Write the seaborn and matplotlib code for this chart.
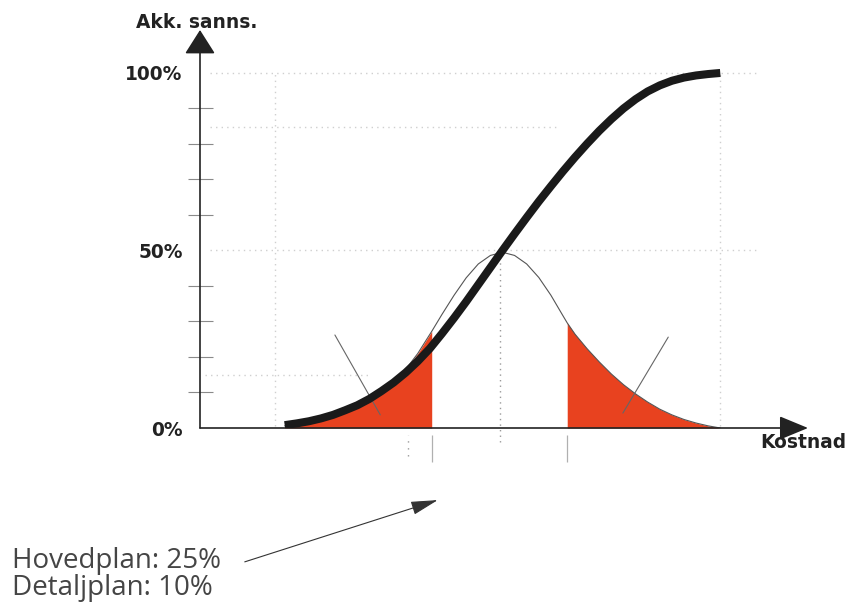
import numpy as np
import matplotlib
matplotlib.use("Agg")
import matplotlib.pyplot as plt
import seaborn as sns

# ==========================================================
# DATA (cost in arbitrary units, probability in %)
# ==========================================================

cost = [14, 16, 18, 20, 22, 24, 26, 28, 30, 32, 34, 36, 38, 40, 42, 44, 46, 48, 50,
        52, 54, 56, 58, 60, 62, 64, 66, 68, 70, 72, 74, 76, 78, 80, 82, 84, 86]
cum_prob = [0.8, 1.3, 1.9, 2.7, 3.7, 5.0, 6.4, 8.2, 10.4, 12.8, 15.6, 18.8, 22.4,
            26.6, 31.0, 35.6, 40.4, 45.2, 50.0, 54.7, 59.3, 63.8, 68.1, 72.3, 76.3,
            80.1, 83.7, 87.0, 90.0, 92.6, 94.8, 96.5, 97.8, 98.7, 99.3, 99.7, 100.0]

bell_cost = [14, 16, 18, 20, 22, 24, 26, 28, 30, 32, 34, 36, 38, 38.3, 40, 42, 44, 46,
             48, 50, 52, 54, 56, 58, 60, 60.7, 62, 64, 66, 68, 70, 72, 74, 76, 78, 80,
             82, 84, 86]
bell_height = [0.6, 1.1, 1.7, 2.4, 3.3, 4.5, 5.9, 7.7, 9.9, 12.8, 16.5, 21.0, 26.4,
               27.2, 32.0, 37.4, 42.3, 46.2, 48.6, 49.5, 48.6, 46.2, 42.4, 37.4, 31.6,
               29.6, 26.4, 22.3, 18.6, 15.2, 12.2, 9.6, 7.3, 5.3, 3.7, 2.4, 1.4, 0.6, 0.0]

low_cut = 38.3
high_cut = 60.7

y_ticks = [0, 50, 100]
y_tick_labels = ["0%", "50%", "100%"]
minor_ticks = [10, 20, 30, 40, 60, 70, 80, 90]

y_title = "Akk. sanns."
x_title = "Kostnad"
note_lines = ["Hovedplan: 25%", "Detaljplan: 10%"]

# ==========================================================
# STYLE
# ==========================================================

sns.set_theme(style="white")
plt.rcParams["font.family"] = ["DejaVu Sans"]

red = "#e8421f"
ink = "#222222"
dotted = dict(color="#cfcfcf", lw=1.0, ls=(0, (1, 3)), zorder=1)

fig = plt.figure(figsize=(8.53, 6.05), dpi=100)
ax = fig.add_axes([200 / 853, 177 / 605, 608 / 853, 398 / 605])
ax.set_xlim(0, 100.5)
ax.set_ylim(0, 112.1)

for side in ax.spines.values():
    side.set_visible(False)

# faint dotted helper grid
ax.hlines(100, 1.7, 92.6, **dotted)
ax.hlines(84.8, 1.7, 59.5, **dotted)
ax.hlines(50, 1.7, 92.6, **dotted)
ax.hlines(14.9, 0.8, 28.0, **dotted)
ax.vlines(12.4, 0.5, 100, **dotted)
ax.vlines(86.0, 0.5, 100, **dotted)
ax.vlines(49.6, -4, 49, color="#9a9a9a", lw=1.0, ls=(0, (1, 3)), zorder=1, clip_on=False)
ax.vlines(34.4, -8, -2, color="#9a9a9a", lw=1.0, ls=(0, (1, 4)), zorder=1, clip_on=False)

# ==========================================================
# RED TAILS + BELL
# ==========================================================

bx = np.array(bell_cost)
by = np.array(bell_height)
left = bx <= low_cut
right = bx >= high_cut

ax.fill_between(bx[left], 0, by[left], color=red, lw=0, zorder=2)
ax.fill_between(bx[right], 0, by[right], color=red, lw=0, zorder=2)

sns.lineplot(x=bell_cost, y=bell_height, color="#555555", lw=0.8,
             ax=ax, sort=False, zorder=3)

# leader lines into the tails
ax.plot([22.3, 29.8], [26.2, 3.7], color="#666666", lw=0.8, zorder=3)
ax.plot([77.4, 69.9], [25.6, 4.2], color="#666666", lw=0.8, zorder=3)

# cut markers under the axis
ax.vlines([low_cut, high_cut], -9.6, -2.0, color="#b0b0b0", lw=0.9, clip_on=False)

# ==========================================================
# CUMULATIVE CURVE
# ==========================================================

sns.lineplot(x=cost, y=cum_prob, color="#1a1a1a", lw=5.8, ax=ax, sort=False,
             zorder=5, solid_capstyle="butt", solid_joinstyle="round")

# ==========================================================
# AXES WITH ARROWS
# ==========================================================

ax.annotate("", xy=(100.5, 0), xytext=(0, 0), annotation_clip=False,
            arrowprops=dict(arrowstyle="-|>,head_length=1.5,head_width=0.62",
                            color=ink, lw=1.2, shrinkA=0, shrinkB=0))
ax.annotate("", xy=(0, 112.1), xytext=(0, 0), annotation_clip=False,
            arrowprops=dict(arrowstyle="-|>,head_length=1.26,head_width=0.8",
                            color=ink, lw=1.2, shrinkA=0, shrinkB=0))

ax.set_xticks([])
ax.set_yticks(y_ticks, y_tick_labels, fontsize=13.4, fontweight="bold", color=ink)
ax.tick_params(axis="y", which="major", length=0, pad=12.5)
ax.set_yticks(minor_ticks, minor=True)
ax.tick_params(axis="y", which="minor", left=True, direction="inout",
               length=18, width=0.8, color="#8a8a8a")
ax.set_xlabel("")
ax.set_ylabel("")

ax.text(-0.5, 112.6, y_title, ha="center", va="baseline", fontsize=13.4,
        fontweight="bold", color=ink, clip_on=False)
ax.text(99.8, -4.2, x_title, ha="center", va="center", fontsize=13.4,
        fontweight="bold", color=ink, clip_on=False)

# ==========================================================
# NOTE + POINTER
# ==========================================================

fig.text(12 / 853, 1 - 568 / 605, note_lines[0], family=["Open Sans", "DejaVu Sans"],
         fontsize=20, color="#454545", va="baseline")
fig.text(12 / 853, 1 - 595 / 605, note_lines[1], family=["Open Sans", "DejaVu Sans"],
         fontsize=20, color="#454545", va="baseline")

ax.annotate("", xy=(39.3, -20.3), xytext=(7.4, -37.7), annotation_clip=False,
            arrowprops=dict(arrowstyle="-|>,head_length=1.4,head_width=0.35",
                            color="#333333", lw=0.8, shrinkA=0, shrinkB=0))

fig.savefig("out.png", dpi=100)
